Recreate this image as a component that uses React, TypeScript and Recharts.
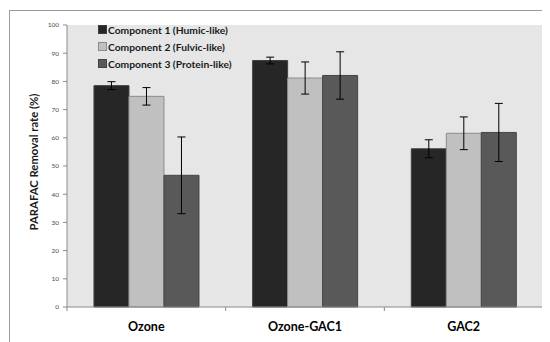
import React from 'react';
import { BarChart, Bar, XAxis, YAxis, CartesianGrid, ErrorBar, Legend } from 'recharts';

const categories = ['Ozone', 'Ozone-GAC1', 'GAC2'];
const humic = [78.5, 87.4, 56.1];
const humicErr = [1.4, 1.2, 3.2];
const fulvic = [74.7, 81.2, 61.6];
const fulvicErr = [3.1, 5.7, 5.8];
const protein = [46.7, 82.1, 61.9];
const proteinErr = [13.6, 8.4, 10.3];
const yTicks = [0, 10, 20, 30, 40, 50, 60, 70, 80, 90, 100];

const seriesNames = ['Component 1 (Humic-like)', 'Component 2 (Fulvic-like)', 'Component 3 (Protein-like)'];
const seriesFill = ['#262626', '#c0c0c0', '#595959'];
const seriesStroke = ['#3f3f3f', '#8c8c8c', '#454545'];

const data = categories.map((c, i) => ({
  name: c,
  humic: humic[i],
  humicErr: humicErr[i],
  fulvic: fulvic[i],
  fulvicErr: fulvicErr[i],
  protein: protein[i],
  proteinErr: proteinErr[i],
}));

const FONT = 'Lato, "Liberation Sans", Arial, sans-serif';

const XTick = (props: any) => {
  const { x, y, payload, index } = props;
  const off = payload && typeof payload.offset === 'number' ? payload.offset : 79;
  const axisY = y - 4;
  return (
    <g>
      <line x1={x - off} x2={x - off} y1={axisY} y2={axisY + 4} stroke="#8a8a8a" />
      {index === categories.length - 1 && (
        <line x1={x + off} x2={x + off} y1={axisY} y2={axisY + 4} stroke="#8a8a8a" />
      )}
      <text x={x} y={axisY + 24} textAnchor="middle" fontFamily={FONT} fontWeight={700} fontSize={12.5} fill="#000">
        {payload.value}
      </text>
    </g>
  );
};

const LegendContent = () => (
  <div style={{ fontFamily: FONT, fontWeight: 700, fontSize: 10.3, color: '#1a1a1a' }}>
    {seriesNames.map((n, i) => (
      <div key={n} style={{ display: 'flex', alignItems: 'center', height: 17, whiteSpace: 'nowrap' }}>
        <span
          style={{
            display: 'inline-block',
            width: 7,
            height: 7,
            background: seriesFill[i],
            border: `1px solid ${seriesStroke[i]}`,
            marginRight: 1,
          }}
        />
        <span>{n}</span>
      </div>
    ))}
  </div>
);

const YLabel = () => (
  <text
    x={30}
    y={154}
    transform="rotate(-90 30 154)"
    textAnchor="middle"
    fontFamily={FONT}
    fontWeight={700}
    fontSize={11.3}
    fill="#1a1a1a"
  >
    PARAFAC Removal rate (%)
  </text>
);

export default function App() {
  return (
    <div style={{ position: 'relative', width: 542, height: 334, background: '#fff' }}>
      <div
        style={{
          position: 'absolute',
          left: 1,
          top: 2,
          width: 541,
          height: 332,
          borderLeft: '1px solid #9a9a9a',
          borderTop: '1px solid #9a9a9a',
        }}
      />
      <BarChart
        width={542}
        height={334}
        data={data}
        margin={{ top: 17, right: 7, bottom: 0, left: 0 }}
        barCategoryGap="17%"
        barGap={0}
        style={{ position: 'absolute', left: 0, top: 0 }}
      >
        <CartesianGrid horizontal={false} vertical={false} fill="#e6e6e6" stroke="none" />
        <XAxis
          dataKey="name"
          height={35}
          axisLine={{ stroke: '#8a8a8a' }}
          tickLine={false}
          tickSize={4}
          tickMargin={0}
          tick={<XTick />}
          interval={0}
        />
        <YAxis
          width={59}
          domain={[0, 100]}
          ticks={yTicks}
          interval={0}
          axisLine={{ stroke: '#8a8a8a' }}
          tickLine={{ stroke: '#8a8a8a' }}
          tickSize={4}
          tickMargin={4}
          tick={{ fontFamily: FONT, fontSize: 6.5, fill: '#4d4d4d' }}
          label={<YLabel />}
        />
        <Legend
          layout="vertical"
          align="center"
          verticalAlign="middle"
          content={<LegendContent />}
          wrapperStyle={{ left: 90, top: 13, width: 'auto', height: 'auto' }}
        />
        <Bar dataKey="humic" name={seriesNames[0]} fill={seriesFill[0]} stroke={seriesStroke[0]} strokeWidth={1} isAnimationActive={false}>
          <ErrorBar dataKey="humicErr" width={4} stroke="#000" strokeWidth={1} />
        </Bar>
        <Bar dataKey="fulvic" name={seriesNames[1]} fill={seriesFill[1]} stroke={seriesStroke[1]} strokeWidth={1} isAnimationActive={false}>
          <ErrorBar dataKey="fulvicErr" width={4} stroke="#000" strokeWidth={1} />
        </Bar>
        <Bar dataKey="protein" name={seriesNames[2]} fill={seriesFill[2]} stroke={seriesStroke[2]} strokeWidth={1} isAnimationActive={false}>
          <ErrorBar dataKey="proteinErr" width={4} stroke="#000" strokeWidth={1} />
        </Bar>
      </BarChart>
    </div>
  );
}
